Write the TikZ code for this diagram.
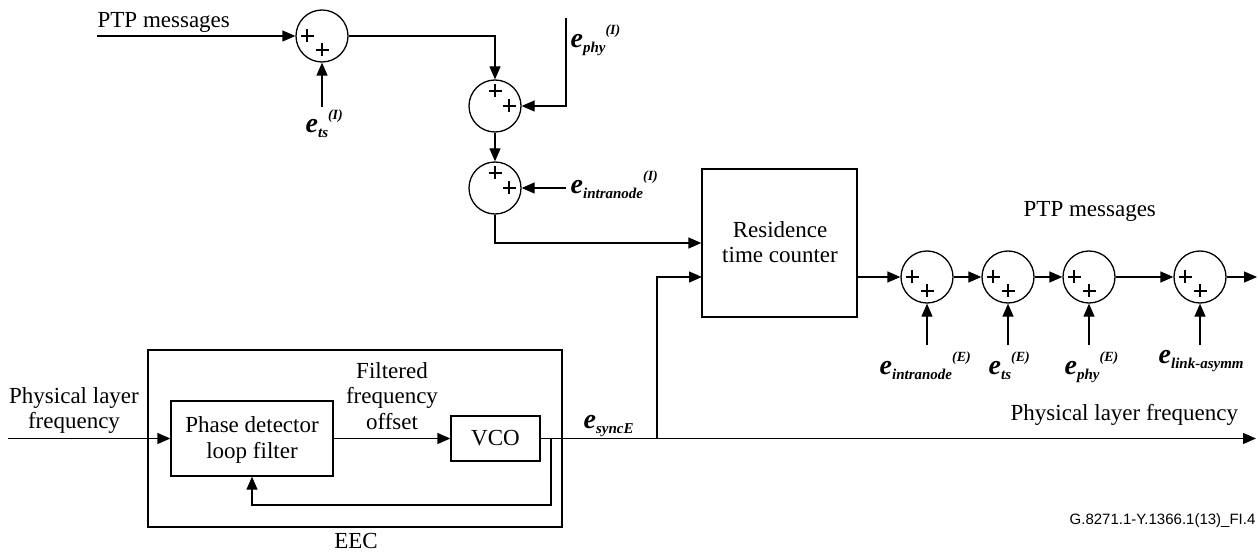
\documentclass[tikz,border=0pt]{standalone}
\usepackage{fontspec}
\setmainfont{Liberation Serif}
\newfontfamily\codefont{Liberation Sans}
\usetikzlibrary{arrows.meta,calc}
\newcommand{\errlab}[2]{{\fontsize{28}{28}\selectfont\bfseries\itshape e}\raisebox{-5pt}{\fontsize{15}{15}\selectfont\bfseries\itshape #1}\raisebox{13pt}{\fontsize{14}{14}\selectfont\bfseries\itshape #2}}
\begin{document}
\begin{tikzpicture}[x=1pt,y=-1pt,line width=1.3pt,
  arr/.style={-{Triangle[length=13pt,width=11pt]}},
  sum/.style={circle,draw,minimum size=52pt,inner sep=0pt,fill=white},
  blk/.style={draw,inner sep=0pt,fill=white},
  txt/.style={inner sep=0pt,font=\fontsize{23}{25}\selectfont},
  lab/.style={inner sep=0pt,anchor=base west},
  plus/.pic={\draw[line width=1.15pt] (-6.5,0)--(6.5,0) (0,-6.5)--(0,6.5);}]
\useasboundingbox (0,0) rectangle (1258,553);

% ---------- top chain ----------
\coordinate (ptpin) at (97,36);
\node[sum] (s1) at (322,36) {};
\node[sum] (s2) at (495,106) {};
\node[sum] (s3) at (495,188) {};
\coordinate (etsI) at (322,107);
\coordinate (ephytop) at (566,18);
\coordinate (eintraI) at (566,188);

\pic at ($(s1)+(-15,0)$) {plus};
\pic at ($(s1)+(0,14)$) {plus};
\pic at ($(s2)+(0,-15)$) {plus};
\pic at ($(s2)+(14,0)$) {plus};
\pic at ($(s3)+(0,-15)$) {plus};
\pic at ($(s3)+(14,0)$) {plus};

\node[txt,anchor=base west] (ptptxt1) at (97,28) {PTP messages};
\node[lab] (lets1) at (305,133) {\errlab{ts}{(I)}};
\node[lab] (lphy1) at (570,48) {\errlab{phy}{(I)}};
\node[lab] (lint1) at (570,194) {\errlab{intranode}{(I)}};

\draw[arr] (ptpin) -- (s1.west);
\draw[arr] (etsI) -- (s1.south);
\draw[arr] (s1.east) -| (s2.north);
\draw[arr] (ephytop) |- (s2.east);
\draw[arr] (s2.south) -- (s3.north);
\draw[arr] (eintraI) -- (s3.east);

% ---------- residence time counter ----------
\node[blk,minimum width=155pt,minimum height=148pt] (rtc) at (779.5,243) {};
\node[txt,anchor=base] (rtct1) at (780,238) {Residence};
\node[txt,anchor=base] (rtct2) at (780,263) {time counter};
\coordinate (rtcin2) at (702,277);
\coordinate (rtcout) at (857,277);
\draw[arr] (s3.south) |- (rtc.west);

% ---------- right chain ----------
\node[sum] (r1) at (927,277) {};
\node[sum] (r2) at (1008,277) {};
\node[sum] (r3) at (1089,277) {};
\node[sum] (r4) at (1200,277) {};
\foreach \c in {r1,r2,r3,r4}{
  \pic at ($(\c)+(-15,0)$) {plus};
  \pic at ($(\c)+(0,14)$) {plus};
}
\coordinate (ptpout) at (1257,277);
\draw[arr] (rtcout) -- (r1.west);
\draw[arr] (r1.east) -- (r2.west);
\draw[arr] (r2.east) -- (r3.west);
\draw[arr] (r3.east) -- (r4.west);
\draw[arr] (r4.east) -- (ptpout);
\coordinate (in1) at (927,345);
\coordinate (in2) at (1008,345);
\coordinate (in3) at (1089,345);
\coordinate (in4) at (1200,345);
\draw[arr] (in1) -- (r1.south);
\draw[arr] (in2) -- (r2.south);
\draw[arr] (in3) -- (r3.south);
\draw[arr] (in4) -- (r4.south);
\node[txt,anchor=base west] (ptptxt2) at (1023,217) {PTP messages};
\node[lab] (lint2) at (879,374) {\errlab{intranode}{(E)}};
\node[lab] (lts2) at (988,374) {\errlab{ts}{(E)}};
\node[lab] (lphy2) at (1064,374) {\errlab{phy}{(E)}};
\node[lab] (llink) at (1158,363) {\errlab{link-asymm}{}};

% ---------- EEC ----------
\node[blk,minimum width=414pt,minimum height=177pt] (eec) at (355,438.5) {};
\node[txt,anchor=base] (eect) at (356,548) {EEC};
\node[blk,minimum width=162pt,minimum height=75pt] (pd) at (252,438.5) {};
\node[txt,anchor=base] (pdt1) at (252,432) {Phase detector};
\node[txt,anchor=base] (pdt2) at (252,458) {loop filter};
\node[blk,minimum width=89pt,minimum height=45pt,font=\fontsize{23}{25}\selectfont] (vco) at (495.5,438.5) {VCO};
\node[txt,anchor=base] (ff1) at (392,378) {Filtered};
\node[txt,anchor=base] (ff2) at (392,403) {frequency};
\node[txt,anchor=base] (ff3) at (392,429) {offset};
\node[txt,anchor=base] (plf1) at (74,403) {Physical layer};
\node[txt,anchor=base] (plf2) at (74,428) {frequency};
\node[txt,anchor=base west] (plf3) at (1010,420) {Physical layer frequency};
\node[lab] (lsync) at (583,428) {\errlab{syncE}{}};

\coordinate (plfin) at (8,438.5);
\coordinate (plfout) at (1256,438.5);
\coordinate (fbtap) at (551,438.5);
\coordinate (fbcorner) at (551,505);
\coordinate (branch) at (657,438.5);
\draw[arr] (plfin) -- (pd.west);
\draw[arr] (pd.east) -- (vco.west);
\draw[arr] (vco.east) -- (plfout);
\draw[arr] (fbtap) -- (fbcorner) -| (pd.south);
\draw[arr] (branch) |- (rtcin2);

\node[inner sep=0pt,anchor=base east,font=\codefont\fontsize{15}{15}\selectfont] (code) at (1256,524) {G.8271.1-Y.1366.1(13)\_FI.4};
\end{tikzpicture}
\end{document}
